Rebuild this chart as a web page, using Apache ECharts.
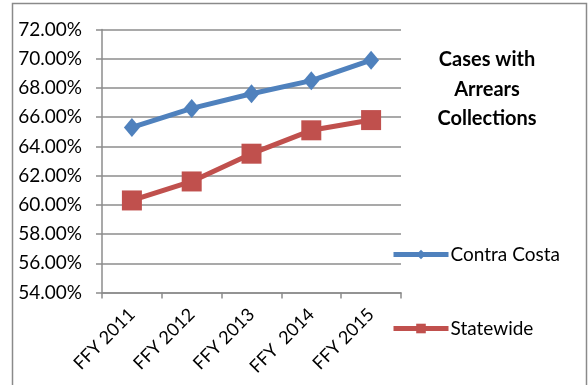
<!DOCTYPE html>
<html>
<head>
<meta charset="utf-8">
<script src="https://cdn.jsdelivr.net/npm/echarts@6/dist/echarts.min.js"></script>
<style>
  html, body { margin: 0; padding: 0; background: #fff; }
  #chart { width: 588px; height: 385px; }
</style>
</head>
<body>
<div id="chart"></div>
<script>
// Fiscal years on the category axis
const years = ['FFY 2011', 'FFY 2012', 'FFY 2013', 'FFY  2014', 'FFY 2015'];
// Share of cases with arrears collections, in percent
const contraCosta = [65.3, 66.6, 67.6, 68.5, 69.9];
const statewide = [60.3, 61.6, 63.5, 65.1, 65.8];
// Value axis range and step, in percent
const yMin = 54, yMax = 72, yStep = 2;

const FONT = 'Lato, "Noto Sans", sans-serif';
const GRID_GRAY = '#8c8c8c';
const BLUE = '#4f81bd';
const RED = '#c0504d';

const chart = echarts.init(document.getElementById('chart'), null, { renderer: 'canvas' });

chart.setOption({
  animation: false,
  backgroundColor: '#fff',
  graphic: [{
    type: 'rect',
    shape: { x: 12.5, y: 3.5, width: 574, height: 385 },
    style: { fill: 'none', stroke: '#8a8a8a', lineWidth: 1.5 },
    silent: true
  }, {
    type: 'text',
    x: 487, y: 45,
    style: {
      text: 'Cases with\nArrears\nCollections',
      font: 'bold 20px ' + FONT,
      fill: '#000',
      align: 'center',
      verticalAlign: 'top',
      lineHeight: 29.5
    }
  }],
  grid: { left: 102, right: 187, top: 29.5, bottom: 92.5, containLabel: false },
  legend: {
    orient: 'vertical',
    left: 391,
    top: 245,
    padding: 0,
    itemWidth: 55,
    itemHeight: 12,
    itemGap: 55,
    textStyle: { fontFamily: FONT, fontSize: 19, color: '#000', padding: [0, 0, 0, -3] },
    data: [
      { name: 'Contra Costa', lineStyle: { width: 5 } },
      { name: 'Statewide', lineStyle: { width: 5 } }
    ]
  },
  xAxis: {
    type: 'category',
    data: years,
    boundaryGap: true,
    axisLine: { lineStyle: { color: GRID_GRAY, width: 1.5 } },
    axisTick: { show: true, length: 6, inside: false, lineStyle: { color: GRID_GRAY, width: 1.5 } },
    axisLabel: {
      rotate: 45,
      margin: 19,
      interval: 0,
      fontFamily: FONT,
      fontSize: 18,
      color: '#000'
    }
  },
  yAxis: {
    type: 'value',
    min: yMin,
    max: yMax,
    interval: yStep,
    axisLine: { show: true, lineStyle: { color: GRID_GRAY, width: 1.5 } },
    axisTick: { show: true, length: 6, lineStyle: { color: GRID_GRAY, width: 1.5 } },
    splitLine: { show: true, lineStyle: { color: GRID_GRAY, width: 1.5 } },
    axisLabel: {
      margin: 20,
      fontFamily: FONT,
      fontSize: 19,
      color: '#000',
      formatter: v => v.toFixed(2) + '%'
    }
  },
  series: [{
    name: 'Contra Costa',
    type: 'line',
    data: contraCosta,
    symbol: 'diamond',
    symbolSize: [16, 19],
    lineStyle: { color: BLUE, width: 5 },
    itemStyle: { color: BLUE },
    z: 3
  }, {
    name: 'Statewide',
    type: 'line',
    data: statewide,
    symbol: 'rect',
    symbolSize: 20,
    lineStyle: { color: RED, width: 5 },
    itemStyle: { color: RED },
    z: 2
  }]
});
</script>
</body>
</html>
